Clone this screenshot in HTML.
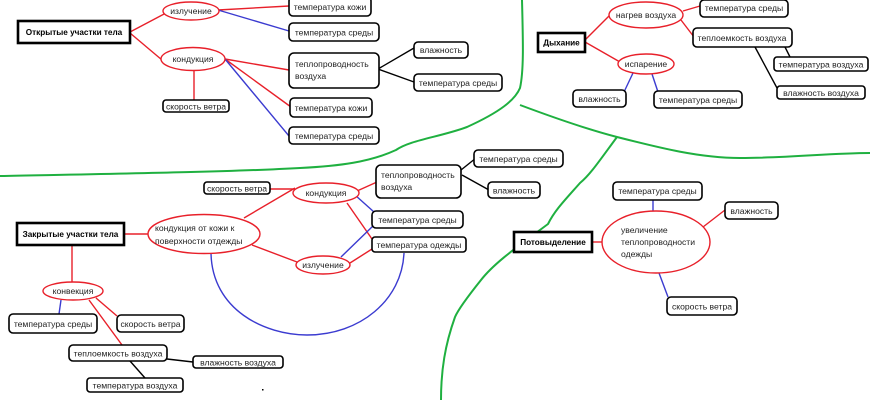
<!DOCTYPE html>
<html><head><meta charset="utf-8"><style>
html,body{margin:0;padding:0;background:#fff;}
svg{display:block;}
text{font-family:"Liberation Sans",sans-serif;font-size:8.6px;fill:#222;}
.b{fill:#fff;stroke:#000;stroke-width:1.6;}
.t{fill:#fff;stroke:#000;stroke-width:2.6;}
.e{fill:#fff;stroke:#e8202a;stroke-width:1.4;}
.r{stroke:#e8202a;stroke-width:1.4;fill:none;}
.u{stroke:#3b3bd0;stroke-width:1.4;fill:none;}
.k{stroke:#000;stroke-width:1.4;fill:none;}
.g{stroke:#1fb040;stroke-width:2;fill:none;}
.bold{font-weight:bold;font-size:8.2px;fill:#000;}
</style></head><body>
<svg width="870" height="400" viewBox="0 0 870 400" xmlns="http://www.w3.org/2000/svg">
<path class="g" d="M522,0 C523,40 524,70 520,88 C515,100 500,112 467,127 C440,137 410,140 396,150 C370,162 340,166 300,168 C230,172 100,174 0,176"/>
<path class="g" d="M520,105 C560,120 590,130 617,137 C660,148 700,158 740,158 C790,158 830,153 870,153"/>
<path class="g" d="M617,137 C600,160 590,175 580,183 C565,200 555,210 548,224 C520,245 495,262 481,280 C465,300 458,310 455,317 C445,345 441,370 441,400"/>

<line class="r" x1="130" y1="32" x2="166" y2="13"/>
<line class="r" x1="130" y1="33" x2="162" y2="60"/>
<line class="r" x1="218" y1="10" x2="289" y2="6"/>
<line class="u" x1="218" y1="10" x2="289" y2="31"/>
<line class="r" x1="225" y1="59" x2="289" y2="70"/>
<line class="r" x1="225" y1="59" x2="291" y2="107"/>
<line class="u" x1="225" y1="59" x2="289" y2="136"/>
<line class="r" x1="194" y1="71" x2="194" y2="100"/>
<line class="k" x1="378" y1="69" x2="414" y2="48"/>
<line class="k" x1="378" y1="69" x2="414" y2="82"/>

<rect class="t" x="18" y="21" width="112" height="22"/>
<text class="bold" x="74" y="35" text-anchor="middle">Открытые участки тела</text>
<ellipse class="e" cx="191" cy="11" rx="28" ry="9"/><text x="191" y="14" text-anchor="middle">излучение</text>
<ellipse class="e" cx="193" cy="59" rx="32" ry="11.5"/><text x="193" y="62" text-anchor="middle">кондукция</text>
<rect class="b" x="289" y="-3" width="82" height="19" rx="4"/><text x="330" y="10" text-anchor="middle">температура кожи</text>
<rect class="b" x="289" y="23" width="90" height="18" rx="4"/><text x="334" y="35.5" text-anchor="middle">температура среды</text>
<rect class="b" x="289" y="53" width="90" height="35" rx="5"/><text x="295" y="67">теплопроводность</text><text x="295" y="79">воздуха</text>
<rect class="b" x="414" y="42" width="54" height="16" rx="4"/><text x="441" y="53" text-anchor="middle">влажность</text>
<rect class="b" x="414" y="74" width="88" height="17" rx="4"/><text x="458" y="86" text-anchor="middle">температура среды</text>
<rect class="b" x="290" y="98" width="82" height="19" rx="4"/><text x="331" y="111" text-anchor="middle">температура кожи</text>
<rect class="b" x="289" y="127" width="90" height="17" rx="4"/><text x="334" y="139" text-anchor="middle">температура среды</text>
<rect class="b" x="163" y="100" width="66" height="12" rx="3"/><text x="196" y="109.5" text-anchor="middle">скорость ветра</text>

<line class="r" x1="585" y1="40" x2="611" y2="14"/>
<line class="r" x1="585" y1="42" x2="620" y2="62"/>
<line class="r" x1="683" y1="11" x2="700" y2="6"/>
<line class="r" x1="681" y1="20" x2="694" y2="37"/>
<line class="k" x1="785" y1="47" x2="790" y2="57"/>
<line class="k" x1="755" y1="47" x2="777" y2="88"/>
<line class="u" x1="633" y1="73" x2="624" y2="92"/>
<line class="u" x1="652" y1="74" x2="658" y2="92"/>
<rect class="t" x="538" y="33" width="47" height="19"/><text class="bold" x="561.5" y="45.5" text-anchor="middle">Дыхание</text>
<ellipse class="e" cx="646" cy="15" rx="37" ry="13"/><text x="646" y="18" text-anchor="middle">нагрев воздуха</text>
<ellipse class="e" cx="646" cy="64" rx="28" ry="10"/><text x="646" y="67" text-anchor="middle">испарение</text>
<rect class="b" x="700" y="0" width="88" height="17" rx="4"/><text x="744" y="11" text-anchor="middle">температура среды</text>
<rect class="b" x="693" y="28" width="99" height="19" rx="4"/><text x="742" y="41" text-anchor="middle">теплоемкость воздуха</text>
<rect class="b" x="774" y="57" width="94" height="14" rx="3"/><text x="821" y="67.5" text-anchor="middle">температура воздуха</text>
<rect class="b" x="777" y="86" width="88" height="13" rx="3"/><text x="821" y="96" text-anchor="middle">влажность воздуха</text>
<rect class="b" x="573" y="90" width="53" height="17" rx="4"/><text x="599.5" y="102" text-anchor="middle">влажность</text>
<rect class="b" x="654" y="91" width="88" height="17" rx="4"/><text x="698" y="103" text-anchor="middle">температура среды</text>

<path class="u" d="M211,253 C212,310 265,335 307,335 C360,335 402,300 404,253"/>
<line class="r" x1="124" y1="234" x2="148" y2="234"/>
<line class="r" x1="72" y1="245" x2="72" y2="282"/>
<line class="r" x1="244" y1="218" x2="295" y2="188"/>
<line class="r" x1="270" y1="189" x2="295" y2="189"/>
<line class="r" x1="252" y1="245" x2="297" y2="262"/>
<line class="r" x1="357" y1="191" x2="377" y2="182"/>
<line class="u" x1="355" y1="195" x2="374" y2="212"/>
<line class="r" x1="347" y1="203" x2="372" y2="239"/>
<line class="u" x1="341" y1="257" x2="374" y2="225"/>
<line class="r" x1="350" y1="263" x2="372" y2="249"/>
<line class="k" x1="461" y1="170" x2="476" y2="158"/>
<line class="k" x1="462" y1="175" x2="489" y2="190"/>
<line class="u" x1="61" y1="300" x2="59" y2="314"/>
<line class="r" x1="96" y1="298" x2="117" y2="316"/>
<line class="r" x1="89" y1="300" x2="122" y2="345"/>
<line class="k" x1="167" y1="359" x2="193" y2="362"/>
<line class="k" x1="130" y1="361" x2="145" y2="378"/>

<rect class="t" x="17" y="223" width="107" height="22"/><text class="bold" x="70.5" y="237" text-anchor="middle">Закрытые участки тела</text>
<ellipse class="e" cx="204" cy="234" rx="56" ry="19.5"/><text x="155" y="231">кондукция от кожи к</text><text x="155" y="244">поверхности отдежды</text>
<ellipse class="e" cx="326" cy="193" rx="33" ry="10"/><text x="326" y="196" text-anchor="middle">кондукция</text>
<rect class="b" x="204" y="182" width="66" height="12" rx="3"/><text x="237" y="191.5" text-anchor="middle">скорость ветра</text>
<rect class="b" x="376" y="165" width="85" height="33" rx="5"/><text x="381" y="178">теплопроводность</text><text x="381" y="190">воздуха</text>
<rect class="b" x="474" y="150" width="89" height="17" rx="4"/><text x="518.5" y="162" text-anchor="middle">температура среды</text>
<rect class="b" x="488" y="182" width="52" height="16" rx="4"/><text x="514" y="193.5" text-anchor="middle">влажность</text>
<rect class="b" x="372" y="211" width="91" height="17" rx="4"/><text x="417.5" y="223" text-anchor="middle">температура среды</text>
<rect class="b" x="372" y="237" width="94" height="15" rx="3"/><text x="419" y="248" text-anchor="middle">температура одежды</text>
<ellipse class="e" cx="323" cy="265" rx="27" ry="9"/><text x="323" y="268" text-anchor="middle">излучение</text>
<ellipse class="e" cx="73" cy="291" rx="30" ry="9"/><text x="73" y="294" text-anchor="middle">конвекция</text>
<rect class="b" x="9" y="314" width="88" height="19" rx="4"/><text x="53" y="327" text-anchor="middle">температура среды</text>
<rect class="b" x="117" y="315" width="67" height="17" rx="4"/><text x="150.5" y="327" text-anchor="middle">скорость ветра</text>
<rect class="b" x="69" y="345" width="98" height="16" rx="4"/><text x="118" y="356.5" text-anchor="middle">теплоемкость воздуха</text>
<rect class="b" x="193" y="356" width="90" height="12" rx="3"/><text x="238" y="365.5" text-anchor="middle">влажность воздуха</text>
<rect class="b" x="87" y="378" width="96" height="14" rx="3"/><text x="135" y="388.5" text-anchor="middle">температура воздуха</text>
<rect x="262" y="389" width="1.5" height="1.5" fill="#000"/>

<line class="r" x1="592" y1="242" x2="602" y2="242"/>
<line class="u" x1="653" y1="200" x2="653" y2="211"/>
<line class="r" x1="703" y1="227" x2="725" y2="210"/>
<line class="u" x1="659" y1="273" x2="668" y2="297"/>
<rect class="t" x="514" y="232" width="78" height="20"/><text class="bold" x="553" y="245" text-anchor="middle">Потовыделение</text>
<ellipse class="e" cx="656" cy="242" rx="54" ry="31"/><text x="621" y="233">увеличение</text><text x="621" y="245">теплопроводности</text><text x="621" y="257">одежды</text>
<rect class="b" x="613" y="182" width="89" height="18" rx="4"/><text x="657.5" y="194" text-anchor="middle">температура среды</text>
<rect class="b" x="725" y="202" width="53" height="17" rx="4"/><text x="751.5" y="214" text-anchor="middle">влажность</text>
<rect class="b" x="667" y="297" width="70" height="18" rx="4"/><text x="702" y="309.5" text-anchor="middle">скорость ветра</text>
</svg>
</body></html>
